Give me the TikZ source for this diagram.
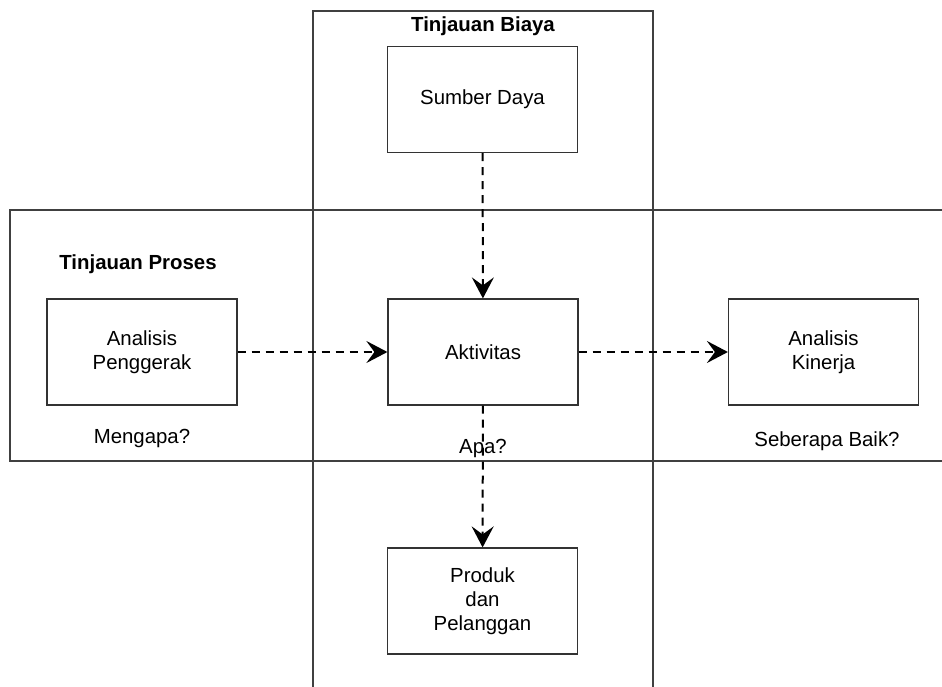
\documentclass[tikz,border=0pt]{standalone}
\usepackage{fontspec}
\setmainfont{Liberation Sans}
\usetikzlibrary{arrows.meta}
\begin{document}
\begin{tikzpicture}[x=0.5pt,y=-0.5pt,
  frame/.style={draw=black!75, line width=0.6pt},
  box/.style={draw=black!80, line width=0.6pt, minimum width=95pt, minimum height=53pt, align=center, font=\fontsize{10.2pt}{12pt}\selectfont, inner sep=0pt},
  lbl/.style={font=\fontsize{10.2pt}{12pt}\selectfont, inner sep=0pt},
  head/.style={font=\fontsize{10.2pt}{12pt}\selectfont\bfseries, inner sep=0pt},
  dasharrow/.style={line width=1pt, dash pattern=on 4pt off 3pt, -{Stealth[length=10.5pt,width=11pt,inset=4pt]}}]
\useasboundingbox (0,0) rectangle (942,686);
\begin{scope}
\clip (0,0) rectangle (942,686);
\draw[frame] (313,11) rectangle (653,720);
\draw[frame] (10,210) rectangle (980,461);
\end{scope}
\node[head] (tb) at (483,26) {Tinjauan Biaya};
\node[head] (tp) at (138,264) {Tinjauan Proses};
\node[box] (sd) at (482.5,99.5) {Sumber Daya};
\node[box] (akt) at (483,352) {Aktivitas};
\node[box] (ap) at (142,352) {Analisis\\Penggerak};
\node[box] (ak) at (823.5,352) {Analisis\\Kinerja};
\node[box] (pp) at (482.5,601) {Produk\\dan\\Pelanggan};
\node[lbl] (m) at (142,438) {Mengapa?};
\node[lbl] (apa) at (483,448) {Apa?};
\node[lbl] (sb) at (827,441) {Seberapa Baik?};
\draw[dasharrow] (sd) -- (akt);
\draw[dasharrow] (akt) -- (pp);
\draw[dasharrow] (ap) -- (akt);
\draw[dasharrow] (akt) -- (ak);
\end{tikzpicture}
\end{document}
